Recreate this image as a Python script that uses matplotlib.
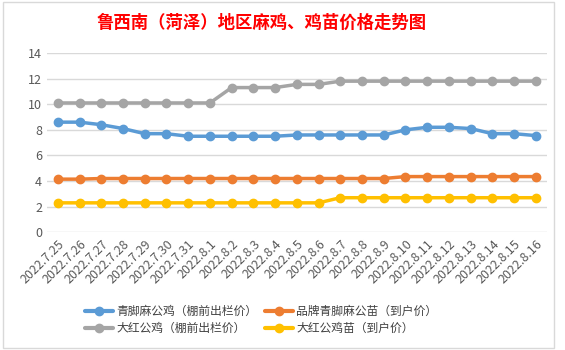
import matplotlib.pyplot as plt
from matplotlib.patches import Rectangle

plt.rcParams['font.family'] = ['Noto Sans CJK SC', 'DejaVu Sans']

# ===== ДАННЫЕ =====
dates = ["2022.7.25", "2022.7.26", "2022.7.27", "2022.7.28", "2022.7.29", "2022.7.30",
         "2022.7.31", "2022.8.1", "2022.8.2", "2022.8.3", "2022.8.4", "2022.8.5",
         "2022.8.6", "2022.8.7", "2022.8.8", "2022.8.9", "2022.8.10", "2022.8.11",
         "2022.8.12", "2022.8.13", "2022.8.14", "2022.8.15", "2022.8.16"]

qingjiao_gongji = [8.6, 8.6, 8.4, 8.1, 7.7, 7.7, 7.5, 7.5, 7.5, 7.5, 7.5, 7.6,
                   7.6, 7.6, 7.6, 7.6, 8.0, 8.2, 8.2, 8.1, 7.7, 7.7, 7.55]
pinpai_miao = [4.15, 4.15, 4.2, 4.2, 4.2, 4.2, 4.2, 4.2, 4.2, 4.2, 4.2, 4.2,
               4.2, 4.2, 4.2, 4.2, 4.35, 4.35, 4.35, 4.35, 4.35, 4.35, 4.35]
dahong_gongji = [10.1, 10.1, 10.1, 10.1, 10.1, 10.1, 10.1, 10.1, 11.3, 11.3, 11.3, 11.55,
                 11.55, 11.8, 11.8, 11.8, 11.8, 11.8, 11.8, 11.8, 11.8, 11.8, 11.8]
dahong_miao = [2.3, 2.3, 2.3, 2.3, 2.3, 2.3, 2.3, 2.3, 2.3, 2.3, 2.3, 2.3,
               2.3, 2.7, 2.7, 2.7, 2.7, 2.7, 2.7, 2.7, 2.7, 2.7, 2.7]

series = [
    ("青脚麻公鸡（棚前出栏价）", qingjiao_gongji, "#5b9bd5"),
    ("品牌青脚麻公苗（到户价）", pinpai_miao, "#ed7d31"),
    ("大红公鸡（棚前出栏价）", dahong_gongji, "#a5a5a5"),
    ("大红公鸡苗（到户价）", dahong_miao, "#ffc000"),
]

# ===== ГРАФИК =====
fig = plt.figure(figsize=(5.65, 3.5), dpi=100)
fig.patches.append(Rectangle((0.006, 0.006), 0.975, 0.988, transform=fig.transFigure,
                             fill=False, edgecolor="#d9d9d9", linewidth=1))

ax = fig.add_axes([47 / 565, 1 - 232.3 / 350, (546.7 - 47) / 565, (232.3 - 53) / 350])
x = list(range(len(dates)))
lines = []
for name, vals, color in series:
    ln, = ax.plot(x, vals, color=color, linewidth=2.5, marker="o", markersize=6,
                  label=name, solid_capstyle="round")
    lines.append(ln)

ax.set_ylim(0, 14)
ax.set_yticks(range(0, 15, 2))
ax.set_xlim(-0.5, len(dates) - 0.5)
ax.set_xticks(x)
ax.set_xticklabels(dates, rotation=45, ha="right", rotation_mode="anchor")
ax.tick_params(axis="both", length=0, colors="#595959", labelsize=9)
ax.tick_params(axis="x", pad=4)
ax.grid(axis="y", color="#d9d9d9", linewidth=1)
ax.set_axisbelow(True)
for s in ax.spines.values():
    s.set_visible(False)

fig.text(0.463, 0.935, "鲁西南（菏泽）地区麻鸡、鸡苗价格走势图", color="#ff0000",
         fontsize=12.5, fontweight="bold", ha="center", va="center")

# порядок как в оригинале: строки заполняются слева направо
order = [0, 2, 1, 3]
leg = fig.legend([lines[i] for i in order], [series[i][0] for i in order],
                 loc="center", bbox_to_anchor=(0.462, 0.085), ncol=2, frameon=False,
                 fontsize=8.5, labelcolor="#404040", handlelength=2.4, columnspacing=0.6,
                 handletextpad=0.3, labelspacing=0.35)
for h in leg.legend_handles:
    h.set_linewidth(3)

fig.savefig("out.png", dpi=100, facecolor="white")
